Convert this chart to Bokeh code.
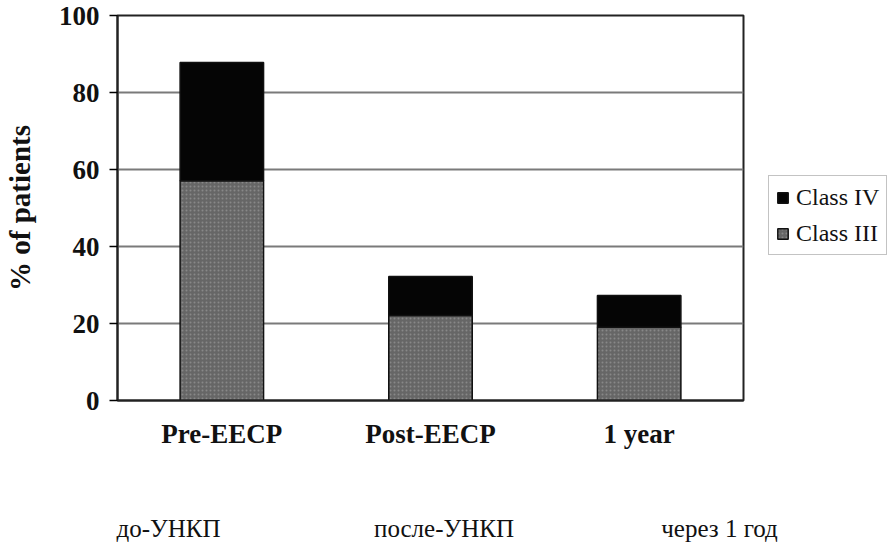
from bokeh.plotting import figure
from bokeh.models import (Range1d, LinearAxis, FixedTicker, Legend, LegendItem)
from bokeh.embed import file_html
from bokeh.resources import INLINE

categories = ["Pre-EECP", "Post-EECP", "1 year"]
ru_labels = ["до-УНКП", "после-УНКП", "через 1 год"]
class_iii = [57.1, 22.1, 19.0]
class_iv = [30.7, 10.1, 8.3]
y_ticks = [0, 20, 40, 60, 80, 100]

SERIF = "Liberation Serif"

idx = list(range(len(categories)))

p = figure(x_range=Range1d(-0.5, len(categories) - 0.5),
           y_range=Range1d(0, 100),
           frame_width=626, frame_height=385,
           output_backend="svg", toolbar_location=None,
           min_border_left=113, min_border_right=136,
           min_border_top=15, min_border_bottom=136)
p.background_fill_color = "white"
p.border_fill_color = "white"
p.outline_line_color = "#222222"
p.outline_line_width = 2

src = dict(x=idx, cat=categories, iii=class_iii, iv=class_iv)
r = p.vbar_stack(["iii", "iv"], x="x", width=0.4, source=src,
                 fill_color=["#666666", "#050505"],
                 line_color="#111111", line_width=1.5,
                 hatch_pattern=["dot", " "], hatch_color="#888888",
                 hatch_scale=4, hatch_weight=1)

# grid
p.xgrid.grid_line_color = None
p.ygrid.grid_line_color = "#7a7a7a"
p.ygrid.grid_line_width = 2
p.yaxis.ticker = FixedTicker(ticks=y_ticks)

# y axis
p.yaxis.axis_line_color = "#222222"
p.yaxis.axis_line_width = 2
p.yaxis.major_tick_out = 8
p.yaxis.major_tick_in = 0
p.yaxis.major_tick_line_width = 1.5
p.yaxis.minor_tick_line_color = None
p.yaxis.major_label_text_font = SERIF
p.yaxis.major_label_text_font_style = "bold"
p.yaxis.major_label_text_font_size = "27px"
p.yaxis.major_label_text_color = "#111111"
p.yaxis.major_label_standoff = 10
p.yaxis.axis_label = "% of patients"
p.yaxis.axis_label_text_font = SERIF
p.yaxis.axis_label_text_font_style = "bold"
p.yaxis.axis_label_text_font_size = "29px"
p.yaxis.axis_label_text_color = "#111111"
p.yaxis.axis_label_standoff = 20

# x axis (English)
xa = p.xaxis[0]
xa.ticker = FixedTicker(ticks=idx)
xa.major_label_overrides = dict(zip(idx, categories))
xa.axis_line_color = "#222222"
xa.axis_line_width = 2
xa.major_tick_line_color = None
xa.minor_tick_line_color = None
xa.major_label_text_font = SERIF
xa.major_label_text_font_style = "bold"
xa.major_label_text_font_size = "27px"
xa.major_label_text_color = "#111111"
xa.major_label_standoff = 12

# second x axis (Russian translations, spaced wider than the bars)
ru_idx = list(range(len(ru_labels)))
p.extra_x_ranges["ru"] = Range1d(-0.185, 2.087)
ru_axis = LinearAxis(x_range_name="ru",
                     ticker=FixedTicker(ticks=ru_idx),
                     major_label_overrides=dict(zip(ru_idx, ru_labels)),
                     axis_line_color=None, major_tick_line_color=None,
                     minor_tick_line_color=None,
                     major_label_text_font=SERIF,
                     major_label_text_font_size="25px",
                     major_label_text_color="#111111",
                     major_label_standoff=57)
p.add_layout(ru_axis, "below")

legend = Legend(items=[LegendItem(label="Class IV", renderers=[r[1]]),
                       LegendItem(label="Class III", renderers=[r[0]])],
                location=(25, 145))
legend.label_text_font = SERIF
legend.label_text_font_size = "24px"
legend.label_text_color = "#111111"
legend.label_height = 28
legend.glyph_width = 13
legend.glyph_height = 13
legend.label_standoff = 7
legend.spacing = 8
legend.padding = 7
legend.margin = 0
legend.border_line_color = "#888888"
legend.border_line_width = 1.5
legend.background_fill_color = "white"
p.add_layout(legend, "right")

open("out.html", "w").write(file_html(p, INLINE))
